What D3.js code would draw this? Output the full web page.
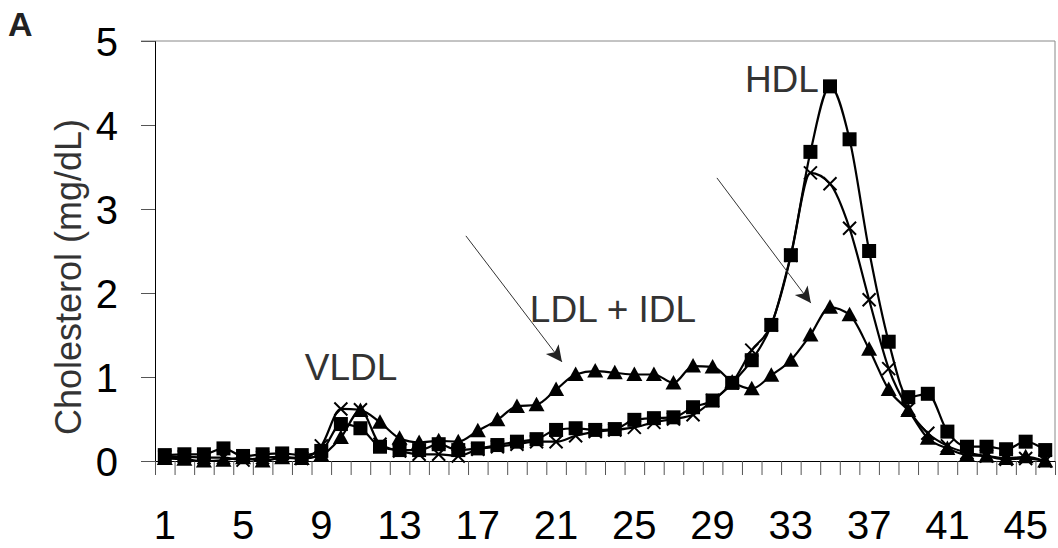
<!DOCTYPE html>
<html>
<head>
<meta charset="utf-8">
<script src="https://cdn.jsdelivr.net/npm/d3@7"></script>
<style>
  html, body { margin: 0; padding: 0; background: #fff; }
  svg { display: block; font-family: "Liberation Sans", Arial, sans-serif; }
</style>
</head>
<body>
<div id="chart"></div>
<script>
// fraction numbers on the x axis
const fractions = d3.range(1, 47);
const xLabels = [1, 5, 9, 13, 17, 21, 25, 29, 33, 37, 41, 45];
const yTicks = [0, 1, 2, 3, 4, 5];

// cholesterol per fraction (mg/dL)
const squareSeries = [0.07, 0.08, 0.08, 0.15, 0.06, 0.08, 0.09, 0.07, 0.12, 0.44,
  0.39, 0.17, 0.13, 0.13, 0.2, 0.13, 0.15, 0.19, 0.23, 0.26,
  0.37, 0.39, 0.37, 0.38, 0.49, 0.51, 0.52, 0.64, 0.72, 0.93,
  1.2, 1.62, 2.45, 3.68, 4.46, 3.83, 2.5, 1.42, 0.76, 0.8,
  0.35, 0.17, 0.17, 0.14, 0.23, 0.13];
const crossSeries = [0.05, 0.05, 0.04, 0.04, 0.01, 0.04, 0.05, 0.03, 0.18, 0.62,
  0.61, 0.2, 0.12, 0.08, 0.08, 0.06, 0.14, 0.17, 0.2, 0.23,
  0.23, 0.3, 0.35, 0.37, 0.4, 0.46, 0.5, 0.55, 0.72, 0.93,
  1.32, 1.62, 2.45, 3.43, 3.3, 2.77, 1.92, 1.1, 0.62, 0.33,
  0.18, 0.1, 0.06, 0.02, 0.03, 0.0];
const triangleSeries = [0.03, 0.02, 0.0, 0.01, 0.04, 0.0, 0.04, 0.03, 0.07, 0.28,
  0.6, 0.46, 0.27, 0.22, 0.24, 0.23, 0.36, 0.49, 0.65, 0.67,
  0.85, 1.03, 1.07, 1.05, 1.03, 1.03, 0.93, 1.13, 1.12, 0.94,
  0.86, 1.02, 1.2, 1.5, 1.83, 1.74, 1.33, 0.85, 0.6, 0.27,
  0.15, 0.07, 0.06, 0.03, 0.05, 0.0];

// labels and arrows, placed in data units (fraction, mg/dL)
const labels = [
  { text: "HDL", x: 30.65, y: 4.39 },
  { text: "LDL + IDL", x: 19.66, y: 1.66 },
  { text: "VLDL", x: 8.16, y: 0.96 }
];
const arrows = [
  { x1: 16.39, y1: 2.68, x2: 21.3, y2: 1.18 },
  { x1: 29.22, y1: 3.37, x2: 34.02, y2: 1.88 }
];

const width = 1058, height = 548;
const margin = { top: 41, right: 3, bottom: 87, left: 155 };

const svg = d3.select("#chart").append("svg")
  .attr("width", width)
  .attr("height", height);

const x = d3.scaleBand()
  .domain(fractions)
  .range([margin.left, width - margin.right])
  .padding(0);
// continuous version of the same axis, for boundaries and annotations
const xc = d3.scaleLinear()
  .domain([0.5, fractions.length + 0.5])
  .range([margin.left, width - margin.right]);
const y = d3.scaleLinear()
  .domain([0, 5])
  .range([height - margin.bottom, margin.top]);

const cx = d => x(d) + x.bandwidth() / 2;

// plot border (top and right)
svg.append("path")
  .attr("d", `M${margin.left - 14},${y(5)}H${width - margin.right}V${y(0)}`)
  .attr("fill", "none")
  .attr("stroke", "#888")
  .attr("stroke-width", 1);

// y axis
const yAxis = svg.append("g")
  .attr("transform", `translate(${margin.left},0)`)
  .call(d3.axisLeft(y).tickValues(yTicks).tickFormat(d3.format("d"))
    .tickSize(14).tickPadding(23));
yAxis.select(".domain").attr("stroke", "#000");
yAxis.selectAll(".tick line").attr("stroke", "#555");
yAxis.selectAll("text")
  .attr("font-size", 40)
  .attr("fill", "#000")
  .attr("dy", "0.36em");

// x axis: boundary ticks
const xTickAxis = svg.append("g")
  .attr("transform", `translate(0,${y(0)})`)
  .call(d3.axisBottom(xc).tickValues(d3.range(0.5, fractions.length + 1, 1))
    .tickFormat("").tickSize(14).tickSizeOuter(0));
xTickAxis.select(".domain").attr("stroke", "#000");
xTickAxis.selectAll(".tick line").attr("stroke", "#555");

// x axis: labels
const xLabelAxis = svg.append("g")
  .attr("transform", `translate(0,${y(0)})`)
  .call(d3.axisBottom(x).tickValues(xLabels).tickSize(0).tickPadding(50));
xLabelAxis.select(".domain").remove();
xLabelAxis.selectAll("text")
  .attr("font-size", 40)
  .attr("fill", "#000");

// y axis title
svg.append("text")
  .attr("transform", `translate(81,${(y(0) + y(5)) / 2 + 26}) rotate(-90)`)
  .attr("text-anchor", "middle")
  .attr("font-size", 36)
  .attr("fill", "#333")
  .text("Cholesterol (mg/dL)");

// panel letter
svg.append("text")
  .attr("x", 8)
  .attr("y", 36)
  .attr("font-size", 34)
  .attr("font-weight", "bold")
  .attr("fill", "#222")
  .text("A");

const line = d3.line()
  .x((d, i) => cx(fractions[i]))
  .y(d => y(d))
  .curve(d3.curveMonotoneX);

function drawSeries(values, marker) {
  const g = svg.append("g");
  g.append("path")
    .datum(values)
    .attr("d", line)
    .attr("fill", "none")
    .attr("stroke", "#000")
    .attr("stroke-width", 2.2);
  const pts = g.selectAll("g.pt")
    .data(values)
    .join("g")
    .attr("class", "pt")
    .attr("transform", (d, i) => `translate(${cx(fractions[i])},${y(d)})`);
  if (marker === "square") {
    pts.append("rect")
      .attr("x", -7).attr("y", -7)
      .attr("width", 14).attr("height", 14)
      .attr("fill", "#000");
  } else if (marker === "triangle") {
    pts.append("path")
      .attr("d", "M0,-8L8,6.5L-8,6.5Z")
      .attr("fill", "#000");
  } else {
    pts.append("path")
      .attr("d", "M-6.5,-6.5L6.5,6.5M-6.5,6.5L6.5,-6.5")
      .attr("stroke", "#000")
      .attr("stroke-width", 2);
  }
}

drawSeries(triangleSeries, "triangle");
drawSeries(crossSeries, "cross");
drawSeries(squareSeries, "square");

// annotations
svg.append("defs").append("marker")
  .attr("id", "head")
  .attr("viewBox", "0 0 10 10")
  .attr("refX", 10).attr("refY", 5)
  .attr("markerUnits", "userSpaceOnUse")
  .attr("markerWidth", 20).attr("markerHeight", 16)
  .attr("orient", "auto")
  .append("path")
  .attr("d", "M0,0L10,5L0,10L2.5,5Z")
  .attr("fill", "#222");

svg.selectAll("line.arrow")
  .data(arrows)
  .join("line")
  .attr("class", "arrow")
  .attr("x1", d => xc(d.x1)).attr("y1", d => y(d.y1))
  .attr("x2", d => xc(d.x2)).attr("y2", d => y(d.y2))
  .attr("stroke", "#333")
  .attr("stroke-width", 1)
  .attr("marker-end", "url(#head)");

svg.selectAll("text.note")
  .data(labels)
  .join("text")
  .attr("class", "note")
  .attr("x", d => xc(d.x))
  .attr("y", d => y(d.y))
  .attr("font-size", 37)
  .attr("fill", "#333")
  .text(d => d.text);
</script>
</body>
</html>
